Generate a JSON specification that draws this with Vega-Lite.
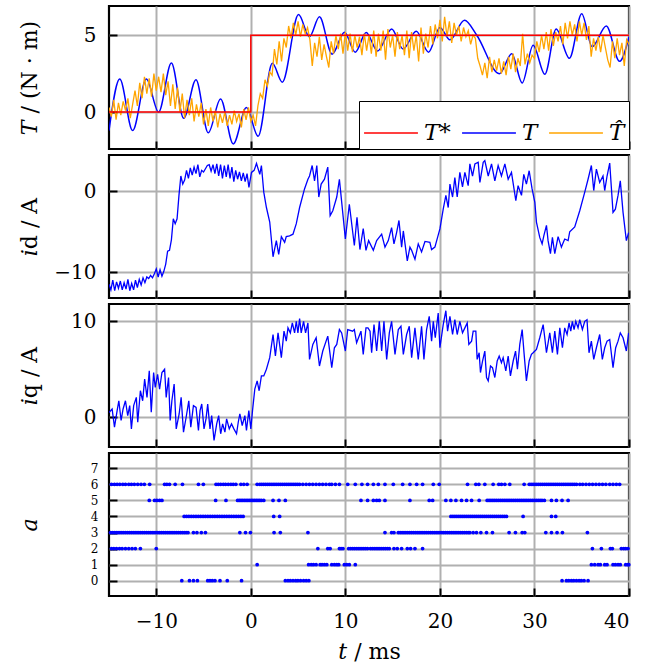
{
"$schema":"https://vega.github.io/schema/vega-lite/v6.json",
"padding":{"left":16,"top":4,"right":5,"bottom":5},
"background":"white",
"config":{
"font":"DejaVu Serif",
"view":{"stroke":"black","strokeWidth":2.2},
"axis":{"grid":true,"gridColor":"#b0b0b0","gridWidth":2,"domain":false,"ticks":true,"tickColor":"black","tickWidth":2,"tickSize":-8,"labelPadding":21,"labelFont":"DejaVu Serif","labelFontSize":20,"labelColor":"black","titleFont":"DejaVu Serif","titleFontSize":22,"titleFontWeight":"normal","titleColor":"black"},
"axisY":{"titleX":-68,"titleY":71.5}
},
"spacing":1,
"resolve":{"scale":{"color":"independent"},"legend":{"color":"independent"}},
"datasets":{
"Ts":[{"t":-15,"v":0},{"t":0,"v":5},{"t":40,"v":5}],
"T":[{"t":-15,"v":-1.2},{"t":-13.86,"v":2.15},{"t":-12.5,"v":-1.2},{"t":-11.05,"v":2.15},{"t":-9.75,"v":0.0},{"t":-8.4,"v":3.2},{"t":-7.1,"v":-0.4},{"t":-5.8,"v":2.1},{"t":-4.5,"v":-1.35},{"t":-3.2,"v":0.85},{"t":-1.86,"v":-2.07},{"t":-0.46,"v":0.3},{"t":0.77,"v":-1.57},{"t":2.28,"v":3.17},{"t":3.33,"v":1.94},{"t":5.05,"v":6.34},{"t":6.2,"v":4.9},{"t":7.26,"v":6.2},{"t":8.6,"v":3.77},{"t":9.9,"v":5.2},{"t":11.05,"v":3.9},{"t":12.2,"v":5.17},{"t":13.4,"v":3.97},{"t":14.9,"v":5.4},{"t":16.1,"v":4.1},{"t":17.5,"v":5.25},{"t":18.8,"v":3.9},{"t":20,"v":5.5},{"t":21.06,"v":4.7},{"t":22.6,"v":5.97},{"t":23.9,"v":5.0},{"t":26.3,"v":2.5},{"t":27.6,"v":3.8},{"t":28.7,"v":1.9},{"t":29.86,"v":4.35},{"t":31.1,"v":2.46},{"t":32.3,"v":5.4},{"t":33.7,"v":3.5},{"t":35.0,"v":6.4},{"t":36.1,"v":4.25},{"t":37.6,"v":5.6},{"t":39.0,"v":3.3},{"t":40,"v":4.9}],
"Th":[{"t":-15,"v":0.3},{"t":-14.75,"v":-0.3},{"t":-14.5,"v":0.8},{"t":-14.25,"v":-0.5},{"t":-14,"v":0.6},{"t":-13.75,"v":-0.2},{"t":-13.5,"v":0.7},{"t":-13.25,"v":0.1},{"t":-13,"v":0.9},{"t":-12.75,"v":-0.4},{"t":-12.5,"v":0.5},{"t":-12.25,"v":1.4},{"t":-12,"v":0.4},{"t":-11.75,"v":1.9},{"t":-11.5,"v":0.9},{"t":-11.25,"v":2.3},{"t":-11,"v":1.2},{"t":-10.75,"v":2.2},{"t":-10.5,"v":1.0},{"t":-10.25,"v":2.5},{"t":-10,"v":1.4},{"t":-9.75,"v":2.3},{"t":-9.5,"v":1.3},{"t":-9.25,"v":2.5},{"t":-9,"v":1.1},{"t":-8.75,"v":2.0},{"t":-8.5,"v":0.4},{"t":-8.25,"v":1.8},{"t":-8,"v":0.2},{"t":-7.75,"v":1.6},{"t":-7.5,"v":0.0},{"t":-7.25,"v":1.2},{"t":-7,"v":-0.4},{"t":-6.75,"v":0.8},{"t":-6.5,"v":-0.2},{"t":-6.25,"v":0.9},{"t":-6,"v":-0.6},{"t":-5.75,"v":0.5},{"t":-5.5,"v":-0.3},{"t":-5.25,"v":0.6},{"t":-5,"v":-0.8},{"t":-4.75,"v":0.2},{"t":-4.5,"v":-0.9},{"t":-4.25,"v":0.3},{"t":-4,"v":-0.6},{"t":-3.75,"v":0.1},{"t":-3.5,"v":-1.0},{"t":-3.25,"v":-0.1},{"t":-3,"v":-0.7},{"t":-2.75,"v":0.0},{"t":-2.5,"v":-0.9},{"t":-2.25,"v":-0.2},{"t":-2,"v":-0.8},{"t":-1.75,"v":0.1},{"t":-1.5,"v":-0.6},{"t":-1.25,"v":-0.1},{"t":-1,"v":-1.0},{"t":-0.75,"v":0.2},{"t":-0.5,"v":-0.5},{"t":-0.25,"v":0.3},{"t":0,"v":-0.6},{"t":0.25,"v":-0.2},{"t":0.5,"v":-0.9},{"t":0.75,"v":0.4},{"t":1,"v":1.2},{"t":1.25,"v":0.9},{"t":1.5,"v":2.1},{"t":1.75,"v":1.7},{"t":2,"v":2.6},{"t":2.25,"v":2.4},{"t":2.5,"v":4.1},{"t":2.75,"v":3.1},{"t":3,"v":4.6},{"t":3.25,"v":3.3},{"t":3.5,"v":4.8},{"t":3.75,"v":4.2},{"t":4,"v":5.6},{"t":4.25,"v":4.8},{"t":4.5,"v":5.8},{"t":4.75,"v":5.0},{"t":5,"v":5.9},{"t":5.25,"v":4.9},{"t":5.5,"v":5.7},{"t":5.75,"v":5.1},{"t":6,"v":5.5},{"t":6.25,"v":4.7},{"t":6.5,"v":3.0},{"t":6.75,"v":4.5},{"t":7,"v":3.6},{"t":7.25,"v":4.9},{"t":7.5,"v":3.4},{"t":7.75,"v":4.4},{"t":8,"v":3.6},{"t":8.25,"v":2.9},{"t":8.5,"v":4.6},{"t":8.75,"v":3.8},{"t":9,"v":5.0},{"t":9.25,"v":4.1},{"t":9.5,"v":5.1},{"t":9.75,"v":3.8},{"t":10,"v":5.2},{"t":10.25,"v":4.0},{"t":10.5,"v":5.1},{"t":10.75,"v":3.9},{"t":11,"v":5.0},{"t":11.25,"v":4.2},{"t":11.5,"v":4.9},{"t":11.75,"v":3.7},{"t":12,"v":5.1},{"t":12.25,"v":4.0},{"t":12.5,"v":5.0},{"t":12.75,"v":3.8},{"t":13,"v":5.3},{"t":13.25,"v":3.6},{"t":13.5,"v":5.1},{"t":13.75,"v":4.0},{"t":14,"v":5.3},{"t":14.25,"v":3.4},{"t":14.5,"v":5.4},{"t":14.75,"v":4.2},{"t":15,"v":5.0},{"t":15.25,"v":3.6},{"t":15.5,"v":5.2},{"t":15.75,"v":4.1},{"t":16,"v":5.0},{"t":16.25,"v":3.7},{"t":16.5,"v":5.3},{"t":16.75,"v":3.5},{"t":17,"v":5.2},{"t":17.25,"v":4.0},{"t":17.5,"v":5.0},{"t":17.75,"v":3.3},{"t":18,"v":5.5},{"t":18.25,"v":3.8},{"t":18.5,"v":5.1},{"t":18.75,"v":4.2},{"t":19,"v":5.6},{"t":19.25,"v":4.4},{"t":19.5,"v":5.7},{"t":19.75,"v":4.8},{"t":20,"v":6.0},{"t":20.25,"v":4.6},{"t":20.5,"v":6.2},{"t":20.75,"v":4.9},{"t":21,"v":5.9},{"t":21.25,"v":4.5},{"t":21.5,"v":5.8},{"t":21.75,"v":5.0},{"t":22,"v":5.6},{"t":22.25,"v":4.6},{"t":22.5,"v":5.5},{"t":22.75,"v":4.9},{"t":23,"v":5.3},{"t":23.25,"v":4.4},{"t":23.5,"v":5.0},{"t":23.75,"v":4.8},{"t":24,"v":3.5},{"t":24.25,"v":3.0},{"t":24.5,"v":2.4},{"t":24.75,"v":3.2},{"t":25,"v":2.2},{"t":25.25,"v":3.6},{"t":25.5,"v":2.6},{"t":25.75,"v":3.4},{"t":26,"v":2.7},{"t":26.25,"v":3.5},{"t":26.5,"v":2.5},{"t":26.75,"v":3.3},{"t":27,"v":2.4},{"t":27.25,"v":3.6},{"t":27.5,"v":2.8},{"t":27.75,"v":3.8},{"t":28,"v":2.6},{"t":28.25,"v":3.5},{"t":28.5,"v":3.0},{"t":28.75,"v":5.1},{"t":29,"v":3.1},{"t":29.25,"v":3.8},{"t":29.5,"v":3.2},{"t":29.75,"v":3.7},{"t":30,"v":3.5},{"t":30.25,"v":4.6},{"t":30.5,"v":3.9},{"t":30.75,"v":5.0},{"t":31,"v":4.1},{"t":31.25,"v":5.2},{"t":31.5,"v":4.0},{"t":31.75,"v":5.4},{"t":32,"v":4.3},{"t":32.25,"v":5.2},{"t":32.5,"v":4.6},{"t":32.75,"v":5.6},{"t":33,"v":4.4},{"t":33.25,"v":5.8},{"t":33.5,"v":4.8},{"t":33.75,"v":5.9},{"t":34,"v":5.0},{"t":34.25,"v":5.7},{"t":34.5,"v":4.6},{"t":34.75,"v":5.9},{"t":35,"v":5.0},{"t":35.25,"v":5.8},{"t":35.5,"v":4.7},{"t":35.75,"v":5.6},{"t":36,"v":3.6},{"t":36.25,"v":4.8},{"t":36.5,"v":4.0},{"t":36.75,"v":4.9},{"t":37,"v":3.9},{"t":37.25,"v":5.0},{"t":37.5,"v":4.2},{"t":37.75,"v":3.4},{"t":38,"v":2.9},{"t":38.25,"v":4.6},{"t":38.5,"v":3.5},{"t":38.75,"v":4.8},{"t":39,"v":3.7},{"t":39.25,"v":4.5},{"t":39.5,"v":3.0},{"t":39.75,"v":4.7},{"t":40,"v":4.4}],
"id":[{"t":-15,"v":-11.5},{"t":-14.8,"v":-12.2},{"t":-14.6,"v":-11.0},{"t":-14.4,"v":-12.3},{"t":-14.2,"v":-11.2},{"t":-14.0,"v":-12.0},{"t":-13.8,"v":-11.1},{"t":-13.6,"v":-12.2},{"t":-13.4,"v":-11.3},{"t":-13.2,"v":-12.1},{"t":-13.0,"v":-10.9},{"t":-12.8,"v":-12.3},{"t":-12.6,"v":-11.4},{"t":-12.4,"v":-12.2},{"t":-12.2,"v":-11.0},{"t":-12.0,"v":-11.9},{"t":-11.8,"v":-10.9},{"t":-11.6,"v":-11.6},{"t":-11.4,"v":-10.7},{"t":-11.2,"v":-11.3},{"t":-11.0,"v":-10.6},{"t":-10.8,"v":-10.8},{"t":-10.6,"v":-10.4},{"t":-10.4,"v":-10.7},{"t":-10.2,"v":-10.2},{"t":-10.0,"v":-9.6},{"t":-9.8,"v":-10.6},{"t":-9.6,"v":-9.7},{"t":-9.4,"v":-10.5},{"t":-9.2,"v":-9.9},{"t":-9.0,"v":-9.0},{"t":-8.8,"v":-7.4},{"t":-8.6,"v":-7.3},{"t":-8.4,"v":-6.0},{"t":-8.2,"v":-3.4},{"t":-8.0,"v":-4.0},{"t":-7.8,"v":-3.4},{"t":-7.6,"v":-0.5},{"t":-7.4,"v":1.9},{"t":-7.2,"v":0.9},{"t":-7.0,"v":1.4},{"t":-6.8,"v":2.6},{"t":-6.6,"v":1.6},{"t":-6.4,"v":2.9},{"t":-6.2,"v":2.0},{"t":-6.0,"v":3.0},{"t":-5.8,"v":2.2},{"t":-5.6,"v":3.3},{"t":-5.4,"v":1.8},{"t":-5.2,"v":2.6},{"t":-5.0,"v":2.4},{"t":-4.8,"v":2.8},{"t":-4.6,"v":3.2},{"t":-4.4,"v":3.3},{"t":-4.2,"v":2.5},{"t":-4.0,"v":3.3},{"t":-3.8,"v":2.2},{"t":-3.6,"v":3.4},{"t":-3.4,"v":1.9},{"t":-3.2,"v":3.3},{"t":-3.0,"v":1.6},{"t":-2.8,"v":3.2},{"t":-2.6,"v":1.8},{"t":-2.4,"v":3.3},{"t":-2.2,"v":1.6},{"t":-2.0,"v":3.0},{"t":-1.8,"v":1.2},{"t":-1.6,"v":2.6},{"t":-1.4,"v":1.5},{"t":-1.2,"v":2.4},{"t":-1.0,"v":1.3},{"t":-0.8,"v":2.3},{"t":-0.6,"v":1.2},{"t":-0.4,"v":2.2},{"t":-0.2,"v":0.5},{"t":0.07,"v":2.35},{"t":0.35,"v":2.6},{"t":0.6,"v":3.45},{"t":0.95,"v":2.1},{"t":1.12,"v":3.2},{"t":1.37,"v":-0.1},{"t":1.65,"v":-2.0},{"t":2.0,"v":-3.8},{"t":2.35,"v":-8.1},{"t":2.7,"v":-6.1},{"t":2.95,"v":-7.8},{"t":3.23,"v":-5.6},{"t":3.58,"v":-6.3},{"t":3.75,"v":-5.6},{"t":4.1,"v":-5.5},{"t":4.46,"v":-5.3},{"t":4.81,"v":-4.0},{"t":5.16,"v":-2.0},{"t":5.68,"v":0.3},{"t":6.04,"v":1.5},{"t":6.21,"v":1.9},{"t":6.49,"v":3.2},{"t":6.74,"v":1.3},{"t":6.98,"v":3.2},{"t":7.19,"v":-0.7},{"t":7.44,"v":0.9},{"t":7.79,"v":1.5},{"t":8.14,"v":3.0},{"t":8.39,"v":-3.0},{"t":8.67,"v":-2.4},{"t":9.09,"v":-0.7},{"t":9.37,"v":1.5},{"t":9.54,"v":-0.5},{"t":10.0,"v":-5.9},{"t":10.42,"v":-1.6},{"t":10.95,"v":-6.7},{"t":11.23,"v":-3.2},{"t":11.54,"v":-7.2},{"t":11.89,"v":-4.6},{"t":12.18,"v":-7.3},{"t":12.46,"v":-6.1},{"t":12.96,"v":-7.3},{"t":13.31,"v":-6.1},{"t":13.84,"v":-5.3},{"t":14.19,"v":-6.9},{"t":14.54,"v":-6.1},{"t":14.89,"v":-4.5},{"t":15.14,"v":-6.5},{"t":15.42,"v":-5.1},{"t":15.67,"v":-3.6},{"t":15.95,"v":-6.9},{"t":16.13,"v":-4.9},{"t":16.55,"v":-8.6},{"t":16.83,"v":-6.9},{"t":17.01,"v":-7.3},{"t":17.36,"v":-8.4},{"t":17.71,"v":-6.5},{"t":18.06,"v":-7.5},{"t":18.42,"v":-6.2},{"t":18.94,"v":-6.3},{"t":19.12,"v":-7.2},{"t":19.47,"v":-6.9},{"t":20.0,"v":-4.65},{"t":20.35,"v":-2.2},{"t":20.63,"v":-0.5},{"t":20.88,"v":-2.0},{"t":21.06,"v":0.9},{"t":21.34,"v":-0.7},{"t":21.58,"v":1.7},{"t":21.83,"v":-0.7},{"t":22.11,"v":2.35},{"t":22.39,"v":0.55},{"t":22.64,"v":2.35},{"t":22.99,"v":0.7},{"t":23.17,"v":3.4},{"t":23.45,"v":1.9},{"t":23.7,"v":3.4},{"t":24.05,"v":3.6},{"t":24.23,"v":1.1},{"t":24.58,"v":3.6},{"t":24.75,"v":3.8},{"t":25.11,"v":1.9},{"t":25.46,"v":3.4},{"t":25.81,"v":1.3},{"t":26.16,"v":3.2},{"t":26.51,"v":1.9},{"t":26.87,"v":3.4},{"t":27.22,"v":1.5},{"t":27.57,"v":2.35},{"t":28.03,"v":-1.15},{"t":28.27,"v":0.7},{"t":28.63,"v":-0.5},{"t":28.87,"v":2.1},{"t":29.15,"v":0.9},{"t":29.44,"v":2.55},{"t":29.75,"v":0.3},{"t":30.04,"v":-1.35},{"t":30.21,"v":-3.8},{"t":30.56,"v":-5.7},{"t":30.81,"v":-6.5},{"t":30.99,"v":-5.5},{"t":31.27,"v":-4.2},{"t":31.44,"v":-6.1},{"t":31.69,"v":-7.7},{"t":31.9,"v":-5.7},{"t":32.15,"v":-7.7},{"t":32.5,"v":-5.6},{"t":32.85,"v":-6.9},{"t":33.2,"v":-5.9},{"t":33.56,"v":-6.1},{"t":33.73,"v":-5.0},{"t":34.26,"v":-4.4},{"t":34.79,"v":-2.4},{"t":35.32,"v":-0.1},{"t":35.67,"v":1.5},{"t":36.02,"v":3.2},{"t":36.27,"v":0.1},{"t":36.55,"v":2.75},{"t":36.9,"v":1.1},{"t":37.25,"v":1.9},{"t":37.43,"v":0.1},{"t":37.68,"v":1.9},{"t":37.96,"v":3.5},{"t":38.31,"v":-2.6},{"t":38.56,"v":-2.2},{"t":38.84,"v":-0.5},{"t":39.08,"v":1.3},{"t":39.37,"v":-2.6},{"t":39.72,"v":-6.1},{"t":39.96,"v":-5.1}],
"iq":[{"t":-15,"v":0.5},{"t":-14.67,"v":0.86},{"t":-14.42,"v":-1.03},{"t":-14.14,"v":0.69},{"t":-13.96,"v":1.72},{"t":-13.72,"v":-0.34},{"t":-13.51,"v":0.86},{"t":-13.26,"v":1.72},{"t":-13.02,"v":0.17},{"t":-12.81,"v":1.21},{"t":-12.63,"v":-1.21},{"t":-12.39,"v":1.21},{"t":-12.11,"v":2.07},{"t":-11.96,"v":-0.52},{"t":-11.68,"v":2.76},{"t":-11.44,"v":1.72},{"t":-11.23,"v":3.97},{"t":-10.98,"v":2.07},{"t":-10.74,"v":4.83},{"t":-10.53,"v":0.52},{"t":-10.28,"v":4.66},{"t":-10.11,"v":3.1},{"t":-9.86,"v":4.48},{"t":-9.65,"v":2.93},{"t":-9.4,"v":4.66},{"t":-9.12,"v":5.0},{"t":-8.95,"v":2.07},{"t":-8.7,"v":4.14},{"t":-8.53,"v":-0.34},{"t":-8.35,"v":1.72},{"t":-8.11,"v":3.45},{"t":-7.89,"v":-1.21},{"t":-7.58,"v":0.34},{"t":-7.37,"v":2.07},{"t":-7.12,"v":-1.55},{"t":-6.84,"v":0.0},{"t":-6.56,"v":1.72},{"t":-6.35,"v":-1.03},{"t":-6.07,"v":1.21},{"t":-5.79,"v":1.03},{"t":-5.54,"v":-1.38},{"t":-5.37,"v":0.69},{"t":-5.19,"v":1.38},{"t":-4.95,"v":-1.21},{"t":-4.74,"v":-0.17},{"t":-4.56,"v":1.38},{"t":-4.32,"v":-1.21},{"t":-4.14,"v":0.17},{"t":-3.89,"v":-2.41},{"t":-3.61,"v":-0.69},{"t":-3.4,"v":0.17},{"t":-3.19,"v":-1.72},{"t":-2.98,"v":-0.69},{"t":-2.74,"v":-1.55},{"t":-2.56,"v":-0.17},{"t":-2.28,"v":-1.21},{"t":-2.04,"v":-0.69},{"t":-1.79,"v":-1.21},{"t":-1.51,"v":-1.72},{"t":-1.33,"v":-0.52},{"t":-1.16,"v":0.34},{"t":-0.91,"v":-0.86},{"t":-0.63,"v":0.17},{"t":-0.46,"v":-1.38},{"t":-0.21,"v":0.69},{"t":0.0,"v":-1.21},{"t":0.18,"v":0.69},{"t":0.42,"v":2.93},{"t":0.67,"v":3.79},{"t":0.88,"v":2.76},{"t":1.12,"v":4.31},{"t":1.37,"v":4.31},{"t":1.65,"v":5.0},{"t":2.0,"v":6.21},{"t":2.35,"v":8.62},{"t":2.6,"v":6.38},{"t":2.88,"v":8.79},{"t":3.23,"v":6.21},{"t":3.51,"v":8.97},{"t":3.75,"v":7.93},{"t":3.93,"v":9.31},{"t":4.18,"v":8.79},{"t":4.39,"v":9.83},{"t":4.63,"v":8.79},{"t":4.81,"v":10.0},{"t":4.98,"v":8.79},{"t":5.16,"v":10.28},{"t":5.33,"v":8.79},{"t":5.58,"v":10.0},{"t":5.79,"v":8.79},{"t":6.04,"v":9.83},{"t":6.21,"v":6.03},{"t":6.56,"v":7.59},{"t":6.91,"v":8.28},{"t":7.26,"v":5.34},{"t":7.61,"v":6.9},{"t":8.14,"v":8.45},{"t":8.56,"v":5.17},{"t":8.84,"v":7.24},{"t":9.09,"v":7.59},{"t":9.37,"v":9.14},{"t":9.61,"v":8.79},{"t":10.0,"v":6.9},{"t":10.25,"v":9.14},{"t":10.77,"v":8.97},{"t":10.95,"v":9.14},{"t":11.19,"v":7.76},{"t":11.65,"v":8.97},{"t":11.89,"v":6.55},{"t":12.18,"v":9.31},{"t":12.39,"v":9.31},{"t":12.61,"v":8.97},{"t":12.78,"v":6.72},{"t":13.03,"v":9.66},{"t":13.31,"v":6.9},{"t":13.59,"v":10.0},{"t":13.84,"v":6.9},{"t":14.08,"v":10.0},{"t":14.37,"v":6.03},{"t":14.65,"v":8.79},{"t":14.89,"v":10.0},{"t":15.25,"v":6.55},{"t":15.6,"v":9.14},{"t":15.88,"v":9.48},{"t":16.13,"v":6.55},{"t":16.48,"v":8.62},{"t":16.76,"v":9.48},{"t":17.01,"v":6.21},{"t":17.36,"v":9.31},{"t":17.71,"v":6.03},{"t":18.06,"v":9.48},{"t":18.31,"v":6.03},{"t":18.59,"v":9.14},{"t":18.87,"v":10.52},{"t":19.12,"v":7.93},{"t":19.3,"v":10.0},{"t":19.51,"v":8.28},{"t":19.82,"v":10.86},{"t":20.0,"v":7.24},{"t":20.35,"v":9.66},{"t":20.63,"v":11.1},{"t":20.81,"v":8.97},{"t":21.06,"v":10.52},{"t":21.34,"v":8.62},{"t":21.58,"v":10.17},{"t":21.83,"v":8.62},{"t":22.11,"v":10.0},{"t":22.39,"v":8.79},{"t":22.64,"v":9.31},{"t":22.89,"v":9.83},{"t":23.06,"v":7.59},{"t":23.35,"v":7.93},{"t":23.52,"v":8.97},{"t":23.8,"v":8.97},{"t":23.94,"v":6.03},{"t":24.15,"v":6.72},{"t":24.29,"v":4.66},{"t":24.51,"v":5.86},{"t":24.75,"v":6.9},{"t":24.93,"v":4.14},{"t":25.11,"v":3.79},{"t":25.35,"v":5.34},{"t":25.56,"v":5.17},{"t":25.81,"v":4.14},{"t":26.06,"v":5.86},{"t":26.27,"v":6.38},{"t":26.51,"v":5.69},{"t":26.69,"v":6.21},{"t":26.97,"v":4.83},{"t":27.22,"v":6.38},{"t":27.46,"v":4.31},{"t":27.75,"v":5.86},{"t":28.0,"v":6.9},{"t":28.2,"v":5.0},{"t":28.45,"v":7.59},{"t":28.7,"v":9.14},{"t":28.91,"v":6.55},{"t":29.15,"v":3.79},{"t":29.44,"v":5.86},{"t":29.68,"v":6.55},{"t":29.86,"v":6.72},{"t":30.21,"v":7.07},{"t":30.56,"v":8.28},{"t":30.92,"v":9.66},{"t":31.09,"v":8.28},{"t":31.27,"v":6.72},{"t":31.62,"v":8.79},{"t":31.9,"v":6.72},{"t":32.15,"v":8.97},{"t":32.43,"v":6.55},{"t":32.68,"v":9.31},{"t":32.96,"v":7.24},{"t":33.2,"v":9.31},{"t":33.45,"v":8.62},{"t":33.66,"v":9.83},{"t":33.84,"v":8.97},{"t":34.01,"v":10.0},{"t":34.19,"v":9.14},{"t":34.37,"v":10.0},{"t":34.61,"v":9.31},{"t":34.79,"v":10.17},{"t":35.07,"v":9.14},{"t":35.32,"v":10.0},{"t":35.56,"v":10.17},{"t":35.77,"v":6.72},{"t":36.02,"v":7.93},{"t":36.27,"v":6.03},{"t":36.55,"v":7.24},{"t":36.9,"v":8.62},{"t":37.18,"v":6.03},{"t":37.43,"v":7.24},{"t":37.68,"v":7.93},{"t":37.96,"v":8.1},{"t":38.31,"v":5.17},{"t":38.59,"v":7.24},{"t":38.84,"v":7.93},{"t":39.08,"v":8.79},{"t":39.37,"v":8.28},{"t":39.72,"v":6.9},{"t":39.96,"v":8.79}],
"a":[
{"a":6,"t":-14.74},{"a":6,"t":-14.42},{"a":6,"t":-14.14},{"a":6,"t":-13.86},{"a":6,"t":-13.54},{"a":6,"t":-13.26},{"a":6,"t":-12.91},{"a":6,"t":-12.63},{"a":6,"t":-12.32},{"a":6,"t":-11.96},{"a":6,"t":-11.61},{"a":6,"t":-11.26},{"a":6,"t":-10.7},{"a":6,"t":-9.12},{"a":6,"t":-8.88},{"a":6,"t":-8.6},{"a":6,"t":-8.0},{"a":6,"t":-7.23},{"a":6,"t":-5.54},{"a":6,"t":-5.02},{"a":6,"t":-3.68},{"a":6,"t":-3.44},{"a":6,"t":-3.19},{"a":6,"t":-2.91},{"a":6,"t":-2.67},{"a":6,"t":-2.39},{"a":6,"t":-2.11},{"a":6,"t":-1.86},{"a":6,"t":-1.58},{"a":6,"t":-1.05},{"a":6,"t":-0.74},{"a":6,"t":-0.39},{"a":6,"t":0.67},{"a":6,"t":0.95},{"a":6,"t":1.15},{"a":6,"t":1.35},{"a":6,"t":1.55},{"a":6,"t":1.75},{"a":6,"t":1.95},{"a":6,"t":2.15},{"a":6,"t":2.35},{"a":6,"t":2.55},{"a":6,"t":2.75},{"a":6,"t":2.95},{"a":6,"t":3.15},{"a":6,"t":3.35},{"a":6,"t":3.55},{"a":6,"t":3.75},{"a":6,"t":3.95},{"a":6,"t":4.15},{"a":6,"t":4.35},{"a":6,"t":4.55},{"a":6,"t":4.75},{"a":6,"t":4.95},{"a":6,"t":5.16},{"a":6,"t":5.5},{"a":6,"t":5.85},{"a":6,"t":6.2},{"a":6,"t":6.55},{"a":6,"t":6.9},{"a":6,"t":7.25},{"a":6,"t":7.6},{"a":6,"t":7.95},{"a":6,"t":8.32},{"a":6,"t":8.56},{"a":6,"t":8.95},{"a":6,"t":9.37},{"a":6,"t":10.25},{"a":6,"t":11.05},{"a":6,"t":11.75},{"a":6,"t":12.35},{"a":6,"t":12.96},{"a":6,"t":13.49},{"a":6,"t":14.19},{"a":6,"t":15.07},{"a":6,"t":16.06},{"a":6,"t":16.83},{"a":6,"t":17.54},{"a":6,"t":18.17},{"a":6,"t":19.3},{"a":6,"t":19.93},{"a":6,"t":22.92},{"a":6,"t":23.8},{"a":6,"t":24.12},{"a":6,"t":24.75},{"a":6,"t":25.63},{"a":6,"t":26.23},{"a":6,"t":26.51},{"a":6,"t":26.87},{"a":6,"t":27.39},{"a":6,"t":28.91},{"a":6,"t":29.45},{"a":6,"t":29.65},{"a":6,"t":29.85},{"a":6,"t":30.05},{"a":6,"t":30.25},{"a":6,"t":30.45},{"a":6,"t":30.65},{"a":6,"t":30.85},{"a":6,"t":31.05},{"a":6,"t":31.25},{"a":6,"t":31.45},{"a":6,"t":31.65},{"a":6,"t":31.85},{"a":6,"t":32.05},{"a":6,"t":32.25},{"a":6,"t":32.45},{"a":6,"t":32.65},{"a":6,"t":32.85},{"a":6,"t":33.05},{"a":6,"t":33.25},{"a":6,"t":33.45},{"a":6,"t":33.65},{"a":6,"t":33.85},{"a":6,"t":34.05},{"a":6,"t":34.25},{"a":6,"t":34.45},{"a":6,"t":34.8},{"a":6,"t":35.1},{"a":6,"t":35.45},{"a":6,"t":35.8},{"a":6,"t":36.15},{"a":6,"t":36.5},{"a":6,"t":36.85},{"a":6,"t":37.2},{"a":6,"t":37.55},{"a":6,"t":37.96},{"a":6,"t":38.31},{"a":6,"t":38.66},{"a":6,"t":39.01},
{"a":5,"t":-10.74},{"a":5,"t":-10.18},{"a":5,"t":-9.93},{"a":5,"t":-9.65},{"a":5,"t":-9.4},{"a":5,"t":-3.72},{"a":5,"t":-2.63},{"a":5,"t":-1.4},{"a":5,"t":-1.22},{"a":5,"t":-1.04},{"a":5,"t":-0.86},{"a":5,"t":-0.68},{"a":5,"t":-0.5},{"a":5,"t":-0.32},{"a":5,"t":-0.14},{"a":5,"t":0.04},{"a":5,"t":0.22},{"a":5,"t":0.4},{"a":5,"t":0.58},{"a":5,"t":0.76},{"a":5,"t":0.94},{"a":5,"t":1.12},{"a":5,"t":1.37},{"a":5,"t":2.35},{"a":5,"t":2.98},{"a":5,"t":3.65},{"a":5,"t":11.65},{"a":5,"t":12.35},{"a":5,"t":12.96},{"a":5,"t":13.31},{"a":5,"t":13.59},{"a":5,"t":14.19},{"a":5,"t":16.83},{"a":5,"t":18.87},{"a":5,"t":19.23},{"a":5,"t":20.63},{"a":5,"t":21.16},{"a":5,"t":21.69},{"a":5,"t":22.29},{"a":5,"t":22.82},{"a":5,"t":23.35},{"a":5,"t":24.15},{"a":5,"t":25.0},{"a":5,"t":25.2},{"a":5,"t":25.4},{"a":5,"t":25.6},{"a":5,"t":25.8},{"a":5,"t":26.0},{"a":5,"t":26.2},{"a":5,"t":26.4},{"a":5,"t":26.6},{"a":5,"t":26.8},{"a":5,"t":27.0},{"a":5,"t":27.2},{"a":5,"t":27.4},{"a":5,"t":27.6},{"a":5,"t":27.8},{"a":5,"t":28.0},{"a":5,"t":28.2},{"a":5,"t":28.4},{"a":5,"t":28.6},{"a":5,"t":28.8},{"a":5,"t":29.0},{"a":5,"t":29.2},{"a":5,"t":29.4},{"a":5,"t":29.6},{"a":5,"t":29.8},{"a":5,"t":30.0},{"a":5,"t":30.2},{"a":5,"t":30.4},{"a":5,"t":30.6},{"a":5,"t":30.8},{"a":5,"t":31.05},{"a":5,"t":31.8},{"a":5,"t":32.32},{"a":5,"t":32.92},{"a":5,"t":33.56},
{"a":4,"t":-7.05},{"a":4,"t":-6.8},{"a":4,"t":-6.55},{"a":4,"t":-6.3},{"a":4,"t":-6.05},{"a":4,"t":-5.8},{"a":4,"t":-5.55},{"a":4,"t":-5.3},{"a":4,"t":-5.05},{"a":4,"t":-4.8},{"a":4,"t":-4.55},{"a":4,"t":-4.3},{"a":4,"t":-4.05},{"a":4,"t":-3.8},{"a":4,"t":-3.55},{"a":4,"t":-3.3},{"a":4,"t":-3.05},{"a":4,"t":-2.8},{"a":4,"t":-2.55},{"a":4,"t":-2.3},{"a":4,"t":-2.05},{"a":4,"t":-1.8},{"a":4,"t":-1.55},{"a":4,"t":-1.3},{"a":4,"t":-1.05},{"a":4,"t":-0.81},{"a":4,"t":2.42},{"a":4,"t":3.05},{"a":4,"t":21.16},{"a":4,"t":21.37},{"a":4,"t":21.58},{"a":4,"t":21.79},{"a":4,"t":22.0},{"a":4,"t":22.21},{"a":4,"t":22.42},{"a":4,"t":22.63},{"a":4,"t":22.84},{"a":4,"t":23.05},{"a":4,"t":23.26},{"a":4,"t":23.47},{"a":4,"t":23.68},{"a":4,"t":23.89},{"a":4,"t":24.1},{"a":4,"t":24.31},{"a":4,"t":24.52},{"a":4,"t":24.73},{"a":4,"t":24.94},{"a":4,"t":25.15},{"a":4,"t":25.36},{"a":4,"t":25.57},{"a":4,"t":25.78},{"a":4,"t":25.99},{"a":4,"t":26.2},{"a":4,"t":26.41},{"a":4,"t":26.62},{"a":4,"t":26.83},{"a":4,"t":27.04},{"a":4,"t":28.8},{"a":4,"t":31.8},{"a":4,"t":32.25},
{"a":3,"t":-14.84},{"a":3,"t":-14.64},{"a":3,"t":-14.44},{"a":3,"t":-14.24},{"a":3,"t":-14.04},{"a":3,"t":-13.84},{"a":3,"t":-13.64},{"a":3,"t":-13.44},{"a":3,"t":-13.24},{"a":3,"t":-13.04},{"a":3,"t":-12.84},{"a":3,"t":-12.64},{"a":3,"t":-12.44},{"a":3,"t":-12.24},{"a":3,"t":-12.04},{"a":3,"t":-11.84},{"a":3,"t":-11.64},{"a":3,"t":-11.44},{"a":3,"t":-11.24},{"a":3,"t":-11.04},{"a":3,"t":-10.84},{"a":3,"t":-10.64},{"a":3,"t":-10.44},{"a":3,"t":-10.24},{"a":3,"t":-10.04},{"a":3,"t":-9.84},{"a":3,"t":-9.64},{"a":3,"t":-9.44},{"a":3,"t":-9.24},{"a":3,"t":-9.04},{"a":3,"t":-8.84},{"a":3,"t":-8.64},{"a":3,"t":-8.44},{"a":3,"t":-8.24},{"a":3,"t":-8.04},{"a":3,"t":-7.84},{"a":3,"t":-7.64},{"a":3,"t":-7.44},{"a":3,"t":-7.24},{"a":3,"t":-7.04},{"a":3,"t":-6.84},{"a":3,"t":-6.64},{"a":3,"t":-6.07},{"a":3,"t":-5.7},{"a":3,"t":-5.23},{"a":3,"t":-4.8},{"a":3,"t":-1.16},{"a":3,"t":-0.56},{"a":3,"t":-0.04},{"a":3,"t":2.46},{"a":3,"t":3.12},{"a":3,"t":6.04},{"a":3,"t":14.19},{"a":3,"t":14.89},{"a":3,"t":15.14},{"a":3,"t":15.6},{"a":3,"t":15.8},{"a":3,"t":16.0},{"a":3,"t":16.2},{"a":3,"t":16.4},{"a":3,"t":16.6},{"a":3,"t":16.8},{"a":3,"t":17.0},{"a":3,"t":17.2},{"a":3,"t":17.4},{"a":3,"t":17.6},{"a":3,"t":17.8},{"a":3,"t":18.0},{"a":3,"t":18.2},{"a":3,"t":18.4},{"a":3,"t":18.6},{"a":3,"t":18.8},{"a":3,"t":19.0},{"a":3,"t":19.2},{"a":3,"t":19.4},{"a":3,"t":19.6},{"a":3,"t":19.8},{"a":3,"t":20.0},{"a":3,"t":20.2},{"a":3,"t":20.4},{"a":3,"t":20.6},{"a":3,"t":20.8},{"a":3,"t":21.0},{"a":3,"t":21.2},{"a":3,"t":21.4},{"a":3,"t":21.6},{"a":3,"t":21.8},{"a":3,"t":22.0},{"a":3,"t":22.2},{"a":3,"t":22.4},{"a":3,"t":22.6},{"a":3,"t":22.8},{"a":3,"t":23.0},{"a":3,"t":23.17},{"a":3,"t":23.52},{"a":3,"t":23.87},{"a":3,"t":24.33},{"a":3,"t":24.93},{"a":3,"t":25.56},{"a":3,"t":27.32},{"a":3,"t":27.99},{"a":3,"t":28.7},{"a":3,"t":28.98},{"a":3,"t":31.2},{"a":3,"t":31.8},{"a":3,"t":32.39},{"a":3,"t":32.96},{"a":3,"t":35.6},
{"a":2,"t":-14.74},{"a":2,"t":-14.49},{"a":2,"t":-14.21},{"a":2,"t":-13.89},{"a":2,"t":-13.61},{"a":2,"t":-13.26},{"a":2,"t":-12.91},{"a":2,"t":-12.56},{"a":2,"t":-12.21},{"a":2,"t":-11.68},{"a":2,"t":-10.0},{"a":2,"t":7.09},{"a":2,"t":8.14},{"a":2,"t":8.39},{"a":2,"t":9.37},{"a":2,"t":9.55},{"a":2,"t":9.75},{"a":2,"t":10.35},{"a":2,"t":10.55},{"a":2,"t":10.75},{"a":2,"t":10.95},{"a":2,"t":11.15},{"a":2,"t":11.35},{"a":2,"t":11.55},{"a":2,"t":11.75},{"a":2,"t":11.95},{"a":2,"t":12.15},{"a":2,"t":12.35},{"a":2,"t":12.65},{"a":2,"t":12.85},{"a":2,"t":13.05},{"a":2,"t":13.25},{"a":2,"t":13.45},{"a":2,"t":13.65},{"a":2,"t":13.85},{"a":2,"t":14.05},{"a":2,"t":14.25},{"a":2,"t":14.45},{"a":2,"t":14.65},{"a":2,"t":15.14},{"a":2,"t":15.49},{"a":2,"t":15.95},{"a":2,"t":16.55},{"a":2,"t":16.9},{"a":2,"t":17.36},{"a":2,"t":18.17},{"a":2,"t":36.13},{"a":2,"t":37.08},{"a":2,"t":38.03},{"a":2,"t":38.24},{"a":2,"t":39.19},{"a":2,"t":39.44},{"a":2,"t":39.65},{"a":2,"t":39.9},
{"a":1,"t":0.67},{"a":1,"t":6.11},{"a":1,"t":6.39},{"a":1,"t":6.63},{"a":1,"t":6.91},{"a":1,"t":7.33},{"a":1,"t":7.54},{"a":1,"t":7.79},{"a":1,"t":8.04},{"a":1,"t":8.56},{"a":1,"t":8.84},{"a":1,"t":9.09},{"a":1,"t":9.3},{"a":1,"t":9.89},{"a":1,"t":10.14},{"a":1,"t":10.42},{"a":1,"t":11.05},{"a":1,"t":36.02},{"a":1,"t":36.37},{"a":1,"t":36.73},{"a":1,"t":36.97},{"a":1,"t":37.43},{"a":1,"t":37.68},{"a":1,"t":38.31},{"a":1,"t":38.56},{"a":1,"t":38.84},{"a":1,"t":39.08},{"a":1,"t":39.65},{"a":1,"t":39.89},{"a":1,"t":39.98},
{"a":0,"t":-7.3},{"a":0,"t":-6.49},{"a":0,"t":-6.07},{"a":0,"t":-5.65},{"a":0,"t":-4.56},{"a":0,"t":-4.32},{"a":0,"t":-4.07},{"a":0,"t":-3.79},{"a":0,"t":-3.26},{"a":0,"t":-2.49},{"a":0,"t":-0.98},{"a":0,"t":3.65},{"a":0,"t":3.93},{"a":0,"t":4.18},{"a":0,"t":4.46},{"a":0,"t":4.74},{"a":0,"t":4.98},{"a":0,"t":5.26},{"a":0,"t":5.58},{"a":0,"t":5.86},{"a":0,"t":6.14},{"a":0,"t":32.92},{"a":0,"t":33.38},{"a":0,"t":33.63},{"a":0,"t":33.91},{"a":0,"t":34.15},{"a":0,"t":34.44},{"a":0,"t":34.72},{"a":0,"t":34.96},{"a":0,"t":35.25},{"a":0,"t":35.67}
]
},
"vconcat":[
{"width":520,"height":143,
"encoding":{
"x":{"field":"t","type":"quantitative","scale":{"domain":[-15,40],"nice":false,"zero":false},"axis":{"values":[-10,0,10,20,30,40],"labels":false,"title":null}},
"y":{"field":"v","type":"quantitative","scale":{"domain":[-2.4,6.9],"nice":false,"zero":false},"axis":{"values":[0,5],"title":"𝑇 / (N · m)"}}
},
"layer":[
{"data":{"name":"T"},"mark":{"type":"line","interpolate":"monotone","strokeWidth":1.5,"clip":true},
"encoding":{"color":{"datum":"T","type":"nominal","scale":{"domain":["T*","T","T\u0302"],"range":["#ff0000","#0000ff","#ffa500"]},"legend":{"orient":"bottom-right","direction":"horizontal","title":null,"offset":0,"symbolType":"stroke","symbolSize":2900,"symbolStrokeWidth":1.5,"labelFontSize":23,"labelFontStyle":"italic","labelFont":"DejaVu Serif","labelColor":"black","fillColor":"white","strokeColor":"black","padding":4,"columnPadding":8,"labelOffset":5,"cornerRadius":0}}}},
{"data":{"name":"Th"},"mark":{"type":"line","strokeWidth":1.3,"clip":true},
"encoding":{"color":{"datum":"T\u0302","type":"nominal"}}},
{"data":{"name":"Ts"},"mark":{"type":"line","interpolate":"step-after","strokeWidth":1.5,"clip":true},
"encoding":{"color":{"datum":"T*","type":"nominal"}}}
]},
{"width":520,"height":143,"data":{"name":"id"},"mark":{"type":"line","strokeWidth":1.3,"color":"#0000ff","clip":true},
"encoding":{
"x":{"field":"t","type":"quantitative","scale":{"domain":[-15,40],"nice":false,"zero":false},"axis":{"values":[-10,0,10,20,30,40],"labels":false,"title":null}},
"y":{"field":"v","type":"quantitative","scale":{"domain":[-13.2,4.5],"nice":false,"zero":false},"axis":{"values":[-10,0],"title":"𝑖d / A"}}
}},
{"width":520,"height":143,"data":{"name":"iq"},"mark":{"type":"line","strokeWidth":1.3,"color":"#0000ff","clip":true},
"encoding":{
"x":{"field":"t","type":"quantitative","scale":{"domain":[-15,40],"nice":false,"zero":false},"axis":{"values":[-10,0,10,20,30,40],"labels":false,"title":null}},
"y":{"field":"v","type":"quantitative","scale":{"domain":[-3.1,11.8],"nice":false,"zero":false},"axis":{"values":[0,10],"title":"𝑖q / A"}}
}},
{"width":520,"height":143,"data":{"name":"a"},"mark":{"type":"circle","size":14,"color":"#0000ff","opacity":1},
"encoding":{
"x":{"field":"t","type":"quantitative","scale":{"domain":[-15,40],"nice":false,"zero":false},"axis":{"values":[-10,0,10,20,30,40],"title":"𝑡 / ms","labelPadding":23,"titlePadding":10}},
"y":{"field":"a","type":"quantitative","scale":{"domain":[-0.95,7.95],"nice":false,"zero":false},"axis":{"values":[0,1,2,3,4,5,6,7],"labelFontSize":12,"labelPadding":19,"title":"𝑎"}}
}}
]
}
